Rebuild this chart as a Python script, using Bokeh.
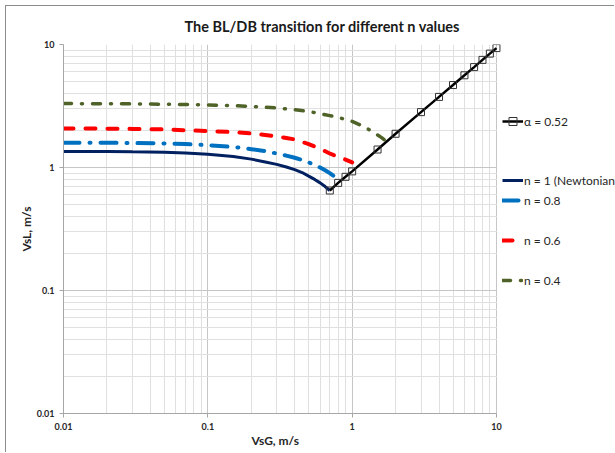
from bokeh.plotting import figure
from bokeh.models import (FixedTicker, CustomJSTickFormatter, Legend, LegendItem,
                          BoxAnnotation, Title)
from bokeh.core.properties import value
from bokeh.embed import file_html
from bokeh.resources import INLINE

TITLE = "The BL/DB transition for different n values"
X_LABEL = "VsG, m/s"
Y_LABEL = "VsL, m/s"
major_ticks = [0.01, 0.1, 1, 10]
minor_ticks = [0.02, 0.03, 0.04, 0.05, 0.06, 0.07, 0.08, 0.09,
               0.2, 0.3, 0.4, 0.5, 0.6, 0.7, 0.8, 0.9,
               2, 3, 4, 5, 6, 7, 8, 9]
X_MIN, X_MAX = 0.01, 10
Y_MIN, Y_MAX = 0.01, 10
X_VIEW_END = 66.8   # extra room on the right for the legend

# alpha = 0.52 transition line
alpha_x = [0.7, 0.8, 0.9, 1, 1.5, 2, 3, 4, 5, 6, 7, 8, 9, 10]
alpha_y = [0.65, 0.75, 0.84, 0.93, 1.40, 1.88, 2.82, 3.75, 4.68, 5.62, 6.55, 7.5, 8.43, 9.35]

# n = 1 (Newtonian)
n1_x = [0.01, 0.02, 0.03, 0.05, 0.07, 0.1, 0.15, 0.2, 0.25, 0.3, 0.35, 0.4, 0.45, 0.5, 0.55, 0.6, 0.65, 0.7]
n1_y = [1.35, 1.35, 1.34, 1.33, 1.31, 1.28, 1.23, 1.17, 1.11, 1.06, 1.01, 0.96, 0.91, 0.85, 0.80, 0.75, 0.70, 0.65]

# n = 0.8
n08_x = [0.01, 0.02, 0.03, 0.05, 0.07, 0.1, 0.15, 0.2, 0.25, 0.3, 0.35, 0.4, 0.45, 0.5, 0.55, 0.6, 0.65, 0.7, 0.75, 0.8]
n08_y = [1.59, 1.59, 1.58, 1.57, 1.55, 1.52, 1.47, 1.41, 1.36, 1.30, 1.25, 1.20, 1.15, 1.10, 1.05, 1.00, 0.95, 0.90, 0.85, 0.79]

# n = 0.6
n06_x = [0.01, 0.02, 0.03, 0.05, 0.07, 0.1, 0.15, 0.2, 0.25, 0.3, 0.35, 0.4, 0.5, 0.6, 0.7, 0.8, 0.9, 1.0]
n06_y = [2.08, 2.07, 2.06, 2.04, 2.01, 1.98, 1.94, 1.89, 1.84, 1.79, 1.74, 1.69, 1.55, 1.42, 1.30, 1.22, 1.16, 1.10]

# n = 0.4
n04_x = [0.01, 0.02, 0.03, 0.05, 0.07, 0.1, 0.15, 0.2, 0.3, 0.4, 0.5, 0.6, 0.7, 0.8, 0.9, 1.0, 1.2, 1.4, 1.6, 1.8]
n04_y = [3.31, 3.30, 3.29, 3.27, 3.25, 3.22, 3.18, 3.14, 3.05, 2.95, 2.85, 2.74, 2.64, 2.55, 2.46, 2.37, 2.16, 1.94, 1.75, 1.57]

labels = ["α = 0.52", "n = 1 (Newtonian)", "n = 0.8", "n = 0.6", "n = 0.4"]

FONT = "Lato"
TEXT = "#262626"

p = figure(width=609, height=447, x_axis_type="log", y_axis_type="log",
           x_range=(X_MIN, X_VIEW_END), y_range=(Y_MIN, Y_MAX),
           output_backend="svg", toolbar_location=None,
           min_border_left=57, min_border_right=0,
           min_border_top=37, min_border_bottom=40,
           y_axis_label=Y_LABEL)
p.margin = (6, 0, 0, 6)
p.styles = {"box-shadow": "-1px -1px 0 0 #8c8c8c"}
p.background_fill_color = "white"
p.border_fill_color = "white"
p.outline_line_color = None

p.title.text = TITLE
p.title.align = "left"
p.title.offset = 121
p.title.text_font = FONT
p.title.text_font_size = "14.5px"
p.title.text_font_style = "bold"
p.title.text_color = "#1a1a1a"
p.title.standoff = 19

for ax in (p.xaxis[0], p.yaxis[0]):
    ax.ticker = FixedTicker(ticks=major_ticks, minor_ticks=minor_ticks)
    ax.formatter = CustomJSTickFormatter(code="return tick.toString();")
    ax.axis_line_color = "#a6a6a6"
    ax.major_tick_line_color = "#a6a6a6"
    ax.major_tick_out = 4
    ax.major_tick_in = 0
    ax.minor_tick_line_color = None
    ax.major_label_text_font = FONT
    ax.major_label_text_font_size = "9px"
    ax.major_label_text_font_style = "bold"
    ax.major_label_text_color = TEXT
    ax.major_label_standoff = 5
    ax.axis_label_text_font = FONT
    ax.axis_label_text_font_size = "12px"
    ax.axis_label_text_font_style = "bold"
    ax.axis_label_text_color = TEXT
    ax.axis_label_standoff = 0
p.xaxis[0].bounds = (X_MIN, X_MAX)

# x-axis title, centred under the plotted decades
xtitle = Title(text=X_LABEL, align="left", offset=188, standoff=-4,
               text_font=FONT, text_font_size="12px", text_font_style="bold",
               text_color=TEXT)
p.add_layout(xtitle, "below")

for g in (p.xgrid[0], p.ygrid[0]):
    g.ticker = FixedTicker(ticks=major_ticks, minor_ticks=minor_ticks)
    g.grid_line_color = "#c6c6c6"
    g.minor_grid_line_color = "#e0e0e0"

# blank out the area right of the plot area (legend zone)
mask = BoxAnnotation(left=10.1, fill_color="white", fill_alpha=1,
                     line_alpha=0, level="underlay")
p.add_layout(mask)

r_n1 = p.line(n1_x, n1_y, line_color="#002060", line_width=3)
r_n08 = p.line(n08_x, n08_y, line_color="#0070C0", line_width=4,
               line_dash="16 10 1 10", line_cap="round")
r_n06 = p.line(n06_x, n06_y, line_color="#FF0000", line_width=4,
               line_dash="10 12", line_cap="round")
r_n04 = p.line(n04_x, n04_y, line_color="#4F6228", line_width=3.5,
               line_dash="8 10 1 10", line_cap="round")
r_al = p.line(alpha_x, alpha_y, line_color="black", line_width=2.5)
r_ap = p.scatter(alpha_x, alpha_y, marker="square", size=7,
                 line_color="#333333", line_width=1, fill_alpha=0)


def make_legend(items, loc, spacing):
    lg = Legend(items=items, location=loc)
    lg.glyph_width = 21
    lg.glyph_height = 20
    lg.label_height = 20
    lg.spacing = spacing
    lg.padding = 0
    lg.margin = 0
    lg.label_standoff = 1
    lg.border_line_color = None
    lg.background_fill_alpha = 0
    lg.label_text_font = FONT
    lg.label_text_font_size = "12px"
    lg.label_text_color = TEXT
    return lg


leg_a = make_legend([LegendItem(label=value(labels[0]), renderers=[r_al, r_ap])],
                    (439, 282), 0)
leg_b = make_legend([LegendItem(label=value(labels[1]), renderers=[r_n1]),
                     LegendItem(label=value(labels[2]), renderers=[r_n08])],
                    (439, 203), 0)
leg_c = make_legend([LegendItem(label=value(labels[3]), renderers=[r_n06]),
                     LegendItem(label=value(labels[4]), renderers=[r_n04])],
                    (439, 123), 20)
for lg in (leg_a, leg_b, leg_c):
    p.add_layout(lg)

open("out.html", "w").write(file_html(p, INLINE))
